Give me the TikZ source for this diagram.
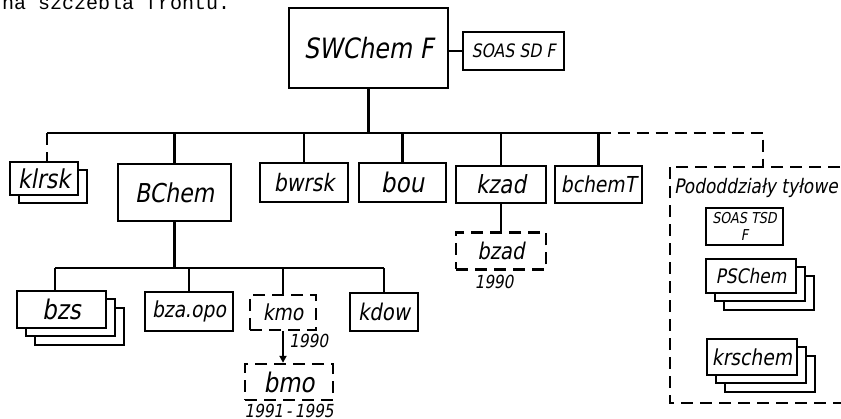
\documentclass[tikz,border=0pt]{standalone}
\usepackage{fontspec}
\usepackage{tikz}
\usetikzlibrary{arrows.meta,positioning,shadows}
\newfontfamily\hand{DejaVu Sans}[FakeSlant=0.18, FakeStretch=0.85]
\newfontfamily\typew{Liberation Mono}
\newcommand{\fsz}[1]{\hand\fontsize{#1}{#1}\selectfont}

\begin{document}
\begin{tikzpicture}[x=1pt, y=-1pt, >={Triangle[length=7pt,width=7pt]},
  unit/.style={draw, line width=2.4pt, fill=white, inner sep=1pt, font=\fsz{24}},
  plan/.style={unit, dash pattern=on 12pt off 7pt},
  link/.style={line width=2.4pt},
  planlink/.style={link, dash pattern=on 12pt off 7pt},
  stacka/.style={copy shadow={shadow xshift=9pt, shadow yshift=-8pt, draw=black, fill=white}},
  stackb/.style={copy shadow={shadow xshift=18pt, shadow yshift=-17pt, draw=black, fill=white},
    copy shadow={shadow xshift=9pt, shadow yshift=-8pt, draw=black, fill=white}},
  year/.style={font=\fsz{18}, inner sep=0pt}]
\useasboundingbox (0,0) rectangle (841,418);
\fill[white] (0,0) rectangle (841,418);
\clip (0,0) rectangle (841,418);

% top line of the page, cut off
\node[anchor=base west, inner sep=0pt, font=\typew\fontsize{20}{20}\selectfont] (header) at (2,9) {na szczebla frontu.};

% command level
\node[unit, font=\fsz{28}, minimum width=159pt, minimum height=80pt] (swchem) at (368.5,48) {SWChem F};
\node[unit, font=\fsz{18.5}, minimum width=101pt, minimum height=38pt] (soassd) at (513.5,51) {SOAS SD F};

% first row
\node[unit, stacka, font=\fsz{26}, minimum width=68pt, minimum height=33pt] (klrsk) at (44,178.5) {klrsk};
\node[unit, font=\fsz{26}, minimum width=113pt, minimum height=57pt] (bchem) at (174.5,192.5) {BChem};
\node[unit, minimum width=88pt, minimum height=39pt] (bwrsk) at (304,182.5) {bwrsk};
\node[unit, font=\fsz{27}, minimum width=87pt, minimum height=39pt] (bou) at (402.5,182.5) {bou};
\node[unit, font=\fsz{25}, minimum width=90pt, minimum height=37pt] (kzad) at (501,184.5) {kzad};
\node[plan, font=\fsz{23}, minimum width=90pt, minimum height=37pt, below=27pt of kzad] (bzad) {bzad};
\node[unit, font=\fsz{22}, minimum width=87pt, minimum height=37pt] (bchemT) at (598.5,184.5) {bchemT};

% rear units
\coordinate (podnw) at (670,167);
\coordinate (podse) at (880,403);
\draw[planlink] (podnw) rectangle (podse);
\node[anchor=west, inner sep=0pt, font=\fsz{20}] (podlabel) at (674,188) {Pododdziały tyłowe};
\node[unit, font=\hand\fontsize{15}{17}\selectfont, align=center, minimum width=77pt, minimum height=37pt] (soastsd) at (744.5,226.5) {SOAS TSD\\F};
\node[unit, stackb, font=\fsz{20}, minimum width=90pt, minimum height=34pt] (pschem) at (751,276) {PSChem};
\node[unit, stackb, font=\fsz{22}, minimum width=90pt, minimum height=36pt] (krschem) at (752,357) {krschem};

% second row
\node[unit, stackb, font=\fsz{27}, minimum width=89pt, minimum height=37pt] (bzs) at (61.5,309.5) {bzs};
\node[unit, font=\fsz{22}, minimum width=88pt, minimum height=39pt] (bzaopo) at (189,311.5) {bza.opo};
\node[plan, font=\fsz{22}, minimum width=66pt, minimum height=35pt] (kmo) at (283,312.5) {kmo};
\node[plan, font=\fsz{27}, minimum width=88pt, minimum height=36pt] (bmo) at (289,382) {bmo};
\node[unit, font=\fsz{23}, minimum width=68pt, minimum height=38pt] (kdow) at (384,312) {kdow};

% years
\node[year, below=4pt of bzad, xshift=-7pt] (ybzad) {1990};
\node[year, anchor=west] (ykmo) at (289,341) {1990};
\node[year, below=3pt of bmo] (ybmo) {1991\,-\,1995};

% connectors
\coordinate (busL) at (47,133);
\coordinate (sub) at (55,268);
\coordinate (podjoin) at (763,167);
\draw[link] (swchem) -- (swchem |- busL);
\draw[link] (swchem.east |- soassd.west) -- (soassd.west);
\draw[link] (busL) -- (bchemT |- busL);
\draw[planlink] (busL) -- (klrsk.north -| busL);
\foreach \n in {bchem,bwrsk,bou,kzad,bchemT}
  \draw[link] (\n |- busL) -- (\n);
\draw[planlink] (bchemT |- busL) -- (podjoin |- busL) -- (podjoin);
\draw[link] (bchem) -- (bchem |- sub);
\draw[link] (sub) -- (kdow |- sub);
\draw[link] (sub) -- (bzs.north -| sub);
\foreach \n in {bzaopo,kmo,kdow}
  \draw[link] (\n |- sub) -- (\n);
\draw[link] (kzad) -- (bzad);
\draw[link,->] (kmo.south) -- (kmo.south |- bmo.north);
\end{tikzpicture}
\end{document}
